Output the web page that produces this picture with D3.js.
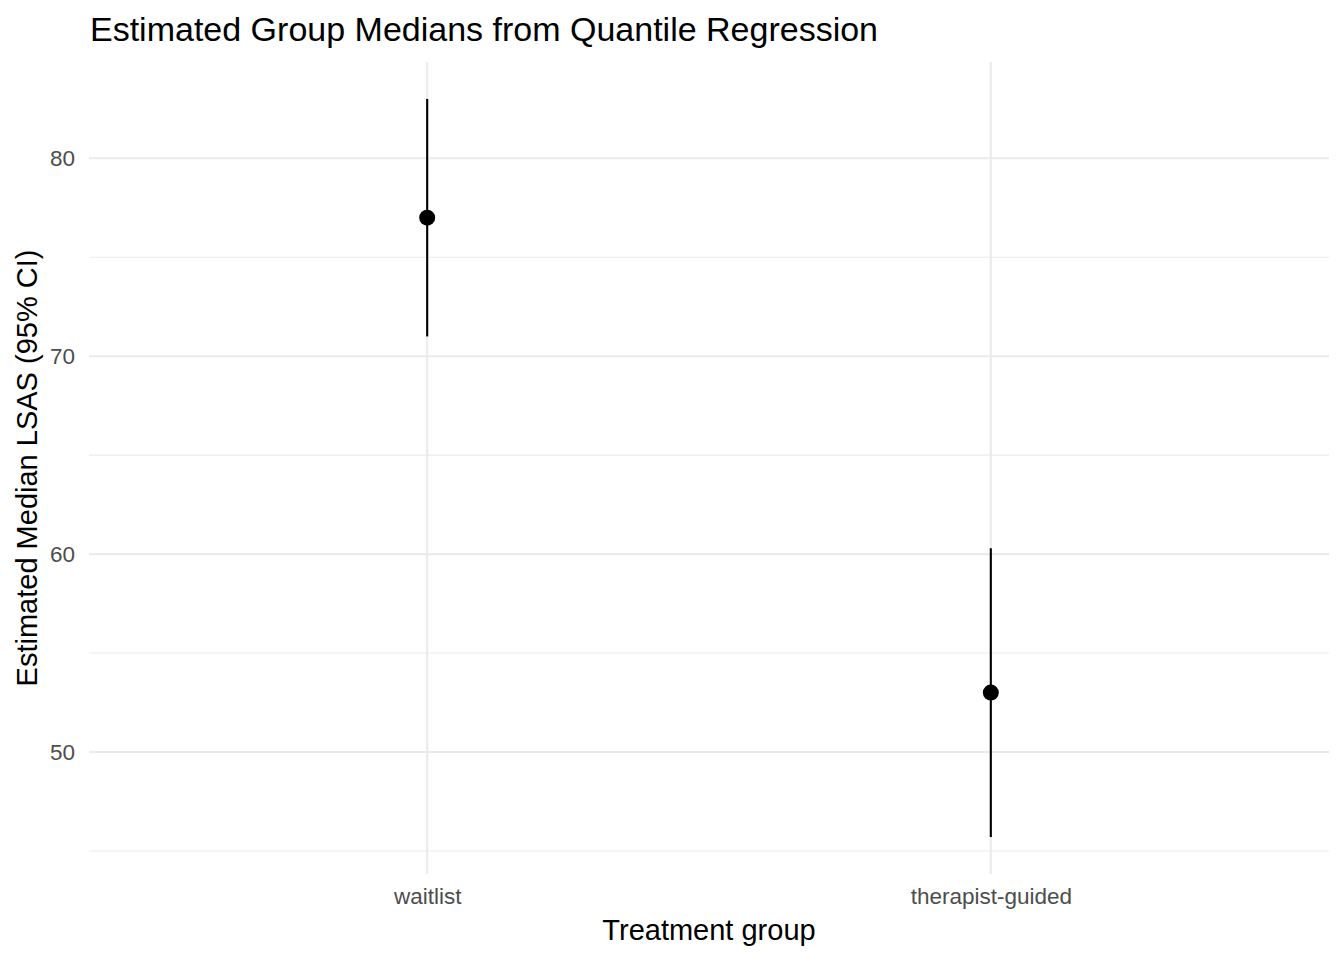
<!DOCTYPE html>
<html>
<head>
<meta charset="utf-8">
<script src="https://cdn.jsdelivr.net/npm/d3@7"></script>
<style>
  body { margin: 0; background: #fff; }
  svg text { font-family: "Liberation Sans", Arial, sans-serif; }
</style>
</head>
<body>
<svg id="chart" width="1344" height="960"></svg>
<script>
// chart values
var groups = ['waitlist', 'therapist-guided'];
var medians = [77, 53];
var ciLow = [71, 45.7];
var ciHigh = [83, 60.3];
var yTicks = [50, 60, 70, 80];
var yMinor = [45, 55, 65, 75];

var svg = d3.select('#chart');
var margin = { top: 62, right: 15, bottom: 86, left: 89 };
var width = 1344 - margin.left - margin.right;
var height = 960 - margin.top - margin.bottom;

// ggplot-style 5% expansion on the continuous axis
var lo = d3.min(ciLow), hi = d3.max(ciHigh);
var pad = (hi - lo) * 0.05;
var y = d3.scaleLinear().domain([lo - pad, hi + pad]).range([height, 0]);
var x = d3.scalePoint().domain(groups).range([0, width]).padding(0.6);

var g = svg.append('g').attr('transform', 'translate(' + margin.left + ',' + margin.top + ')');

// grid
g.selectAll('.minor').data(yMinor).enter().append('line')
  .attr('x1', 0).attr('x2', width)
  .attr('y1', function(d) { return y(d); }).attr('y2', function(d) { return y(d); })
  .attr('stroke', '#ebebeb').attr('stroke-width', 1.1);
g.selectAll('.major').data(yTicks).enter().append('line')
  .attr('x1', 0).attr('x2', width)
  .attr('y1', function(d) { return y(d); }).attr('y2', function(d) { return y(d); })
  .attr('stroke', '#ebebeb').attr('stroke-width', 2.1);
g.selectAll('.vgrid').data(groups).enter().append('line')
  .attr('x1', function(d) { return x(d); }).attr('x2', function(d) { return x(d); })
  .attr('y1', 0).attr('y2', height)
  .attr('stroke', '#ebebeb').attr('stroke-width', 2.1);

// axes (text only, like theme_minimal)
var yAxis = g.append('g').call(d3.axisLeft(y).tickValues(yTicks).tickSize(0).tickPadding(14));
yAxis.select('.domain').remove();
yAxis.selectAll('text').attr('fill', '#4d4d4d').style('font-size', '22.5px');

var xAxis = g.append('g').attr('transform', 'translate(0,' + height + ')')
  .call(d3.axisBottom(x).tickSize(0).tickPadding(14));
xAxis.select('.domain').remove();
xAxis.selectAll('text').attr('fill', '#4d4d4d').style('font-size', '22.5px');

// error bars and points
g.selectAll('.ci').data(groups).enter().append('line')
  .attr('x1', function(d) { return x(d); }).attr('x2', function(d) { return x(d); })
  .attr('y1', function(d, i) { return y(ciLow[i]); })
  .attr('y2', function(d, i) { return y(ciHigh[i]); })
  .attr('stroke', '#000').attr('stroke-width', 2.1);
g.selectAll('.pt').data(groups).enter().append('circle')
  .attr('cx', function(d) { return x(d); })
  .attr('cy', function(d, i) { return y(medians[i]); })
  .attr('r', 8).attr('fill', '#000');

// titles
svg.append('text').attr('x', 90).attr('y', 41)
  .style('font-size', '34px').attr('fill', '#000')
  .text('Estimated Group Medians from Quantile Regression');
svg.append('text').attr('x', margin.left + width / 2).attr('y', 940)
  .attr('text-anchor', 'middle').style('font-size', '29px').attr('fill', '#000')
  .text('Treatment group');
svg.append('text')
  .attr('transform', 'translate(37,' + (margin.top + height / 2) + ') rotate(-90)')
  .attr('text-anchor', 'middle').style('font-size', '29px').attr('fill', '#000')
  .text('Estimated Median LSAS (95% CI)');
</script>
</body>
</html>
